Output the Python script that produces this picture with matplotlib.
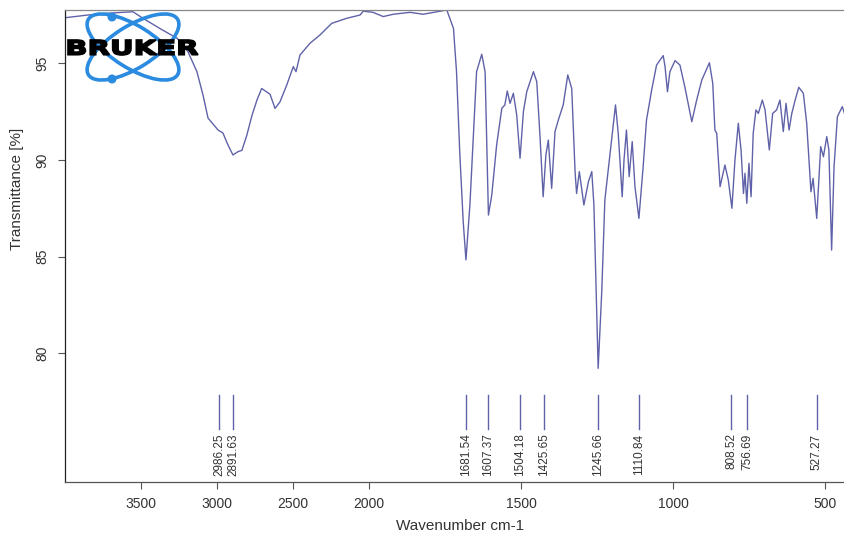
import numpy as np
import matplotlib
matplotlib.use('Agg')
import matplotlib.pyplot as plt
import matplotlib.transforms as mtransforms
from matplotlib.patches import Ellipse, Circle, PathPatch
from matplotlib.textpath import TextPath
from matplotlib.font_manager import FontProperties

# spectrum: wavenumber (cm-1) and transmittance (%)
wavenumber = [4000, 3850, 3704, 3553, 3487, 3375, 3263, 3191, 3132, 3092, 3059,
              2993, 2961, 2928, 2895, 2862, 2836, 2803, 2770, 2737, 2706, 2651,
              2618, 2586, 2541, 2498, 2480, 2454, 2388, 2322, 2245, 2147, 2059,
              2037, 1987, 1953, 1920, 1865, 1822, 1777, 1744, 1722, 1712, 1701,
              1690, 1681, 1668, 1657, 1646, 1629, 1618, 1613, 1607, 1596, 1580,
              1563, 1553, 1545, 1536, 1525, 1514, 1503, 1492, 1481, 1459, 1448,
              1437, 1427, 1418, 1410, 1399, 1388, 1377, 1361, 1346, 1333, 1322,
              1317, 1308, 1293, 1278, 1267, 1260, 1253, 1246, 1234, 1224, 1213,
              1202, 1189, 1180, 1167, 1161, 1153, 1144, 1134, 1125, 1112, 1098,
              1087, 1070, 1054, 1032, 1026, 1018, 1010, 993, 977, 961, 938, 922,
              905, 880, 869, 862, 856, 845, 829, 818, 806, 796, 785, 776, 768,
              763, 757, 750, 743, 736, 727, 719, 706, 697, 683, 672, 659, 648,
              637, 628, 618, 609, 598, 586, 571, 560, 546, 539, 527, 514, 505,
              494, 487, 478, 470, 459, 443, 434]
transmittance = [97.36, 97.5, 97.6, 97.67, 97.33, 96.8, 96.3, 95.6, 94.57, 93.36, 92.17,
                 91.55, 91.4, 90.78, 90.26, 90.43, 90.5, 91.3, 92.3, 93.1, 93.7, 93.4,
                 92.67, 93.0, 93.88, 94.83, 94.57, 95.43, 96.04, 96.47, 97.07, 97.33, 97.5,
                 97.7, 97.64, 97.42, 97.54, 97.64, 97.54, 97.67, 97.76, 96.81, 94.57, 90.26,
                 86.81, 84.83, 87.67, 91.12, 94.57, 95.47, 94.57, 91.12, 87.15, 88.19, 90.78,
                 92.67, 92.85, 93.57, 92.93, 93.45, 92.33, 90.09, 92.5, 93.53, 94.57, 94.05,
                 91.12, 88.1, 90.26, 91.03, 88.53, 91.47, 92.07, 92.85, 94.4, 93.7, 89.4,
                 88.27, 89.4, 87.67, 88.88, 89.4, 87.67, 83.36, 79.22, 83.27, 87.93, 89.48,
                 91.03, 92.85, 91.38, 88.1, 90.0, 91.55, 89.14, 90.95, 88.62, 86.98, 89.66,
                 92.07, 93.62, 94.91, 95.4, 94.83, 93.53, 94.57, 95.14, 94.91, 93.79, 91.98, 93.1,
                 94.14, 95.03, 93.96, 91.55, 91.38, 88.62, 89.74, 88.97, 87.5, 90.0, 91.9, 90.52, 88.27,
                 89.31, 87.76, 89.83, 88.1, 91.38, 92.59, 92.41, 93.1, 92.59, 90.52, 92.41, 92.59, 93.1,
                 91.47, 92.93, 91.55, 92.41, 93.1, 93.76, 93.45, 91.9, 88.36, 89.05, 86.98, 90.69, 90.17,
                 91.21, 90.52, 85.34, 89.66, 92.24, 92.76, 92.33]

peaks = [2986.25, 2891.63, 1681.54, 1607.37, 1504.18, 1425.65, 1245.66,
         1110.84, 808.52, 756.69, 527.27]

xticks = [3500, 3000, 2500, 2000, 1500, 1000, 500]
yticks = [80, 85, 90, 95]

line_col = '#5f62a8'
text_col = '#333333'


# OPUS style axis: everything above 2000 cm-1 is squeezed by half
def fwd(x):
    x = np.asarray(x, dtype=float)
    return np.where(x > 2000, 2000 + (x - 2000) / 2, x)


def inv(x):
    x = np.asarray(x, dtype=float)
    return np.where(x > 2000, 2000 + (x - 2000) * 2, x)


plt.rcParams['font.family'] = ['Liberation Sans', 'DejaVu Sans']

fig = plt.figure(figsize=(8.45, 5.35), dpi=100)
ax = fig.add_axes([65 / 845, 1 - 482 / 535, 780 / 845, 472 / 535])
ax.set_xscale('function', functions=(fwd, inv))

ax.plot(wavenumber, transmittance, color=line_col, lw=1.0)

for p in peaks:
    ax.plot([p, p], [76.08, 77.84], color=line_col, lw=1.0)
    ax.text(p, 75.85, f'{p:.2f}', rotation=90, ha='center', va='top',
            fontsize=8.5, color=text_col)

ax.set_xlim(4000, 434)
ax.set_ylim(73.34, 97.76)
ax.set_xticks(xticks)
ax.set_xticklabels([str(t) for t in xticks])
ax.set_yticks(yticks)
ax.set_yticklabels([str(t) for t in yticks], rotation=90, va='center')
ax.xaxis.set_minor_locator(matplotlib.ticker.NullLocator())

ax.tick_params(axis='both', direction='out', length=5, width=0.8,
               colors='#555555', labelcolor=text_col, labelsize=10)
ax.tick_params(axis='x', pad=6)
ax.tick_params(axis='y', pad=6)

ax.spines['right'].set_visible(False)
ax.spines['top'].set_color('#888888')
ax.spines['left'].set_color('#222222')
ax.spines['bottom'].set_color('#555555')
for s in ax.spines.values():
    s.set_linewidth(0.9)

ax.set_xlabel('Wavenumber cm-1', fontsize=11, color=text_col)
ax.xaxis.set_label_coords(0.506, -0.078)
ax.set_ylabel('Transmittance [%]', fontsize=11, color=text_col)
ax.yaxis.set_label_coords(-0.053, 0.62)

# Bruker logo, laid out in pixel units (1 in = 100 px)
def px(x, y):
    return x / 100, (535 - y) / 100


logo_blue = '#2a8be0'
for ang in (32, -32):
    fig.add_artist(Ellipse(px(133, 47), 1.05, 0.42, angle=ang, fill=False,
                           ec=logo_blue, lw=2.6, transform=fig.dpi_scale_trans))
for yy in (17, 79):
    fig.add_artist(Circle(px(112, yy), 0.045, fc=logo_blue, ec='none',
                          transform=fig.dpi_scale_trans))

tp = TextPath((0, 0), 'BRUKER', size=1,
              prop=FontProperties(family='DejaVu Sans', weight='bold'))
ext = tp.get_extents()
x0, y0 = px(68, 55)
tr = (mtransforms.Affine2D().translate(-ext.x0, -ext.y0)
      .scale(1.30 / ext.width, 0.15 / ext.height).translate(x0, y0)
      + fig.dpi_scale_trans)
fig.add_artist(PathPatch(tp, fc='black', ec='black', lw=1.2, transform=tr))

fig.savefig('out.png', dpi=100)
